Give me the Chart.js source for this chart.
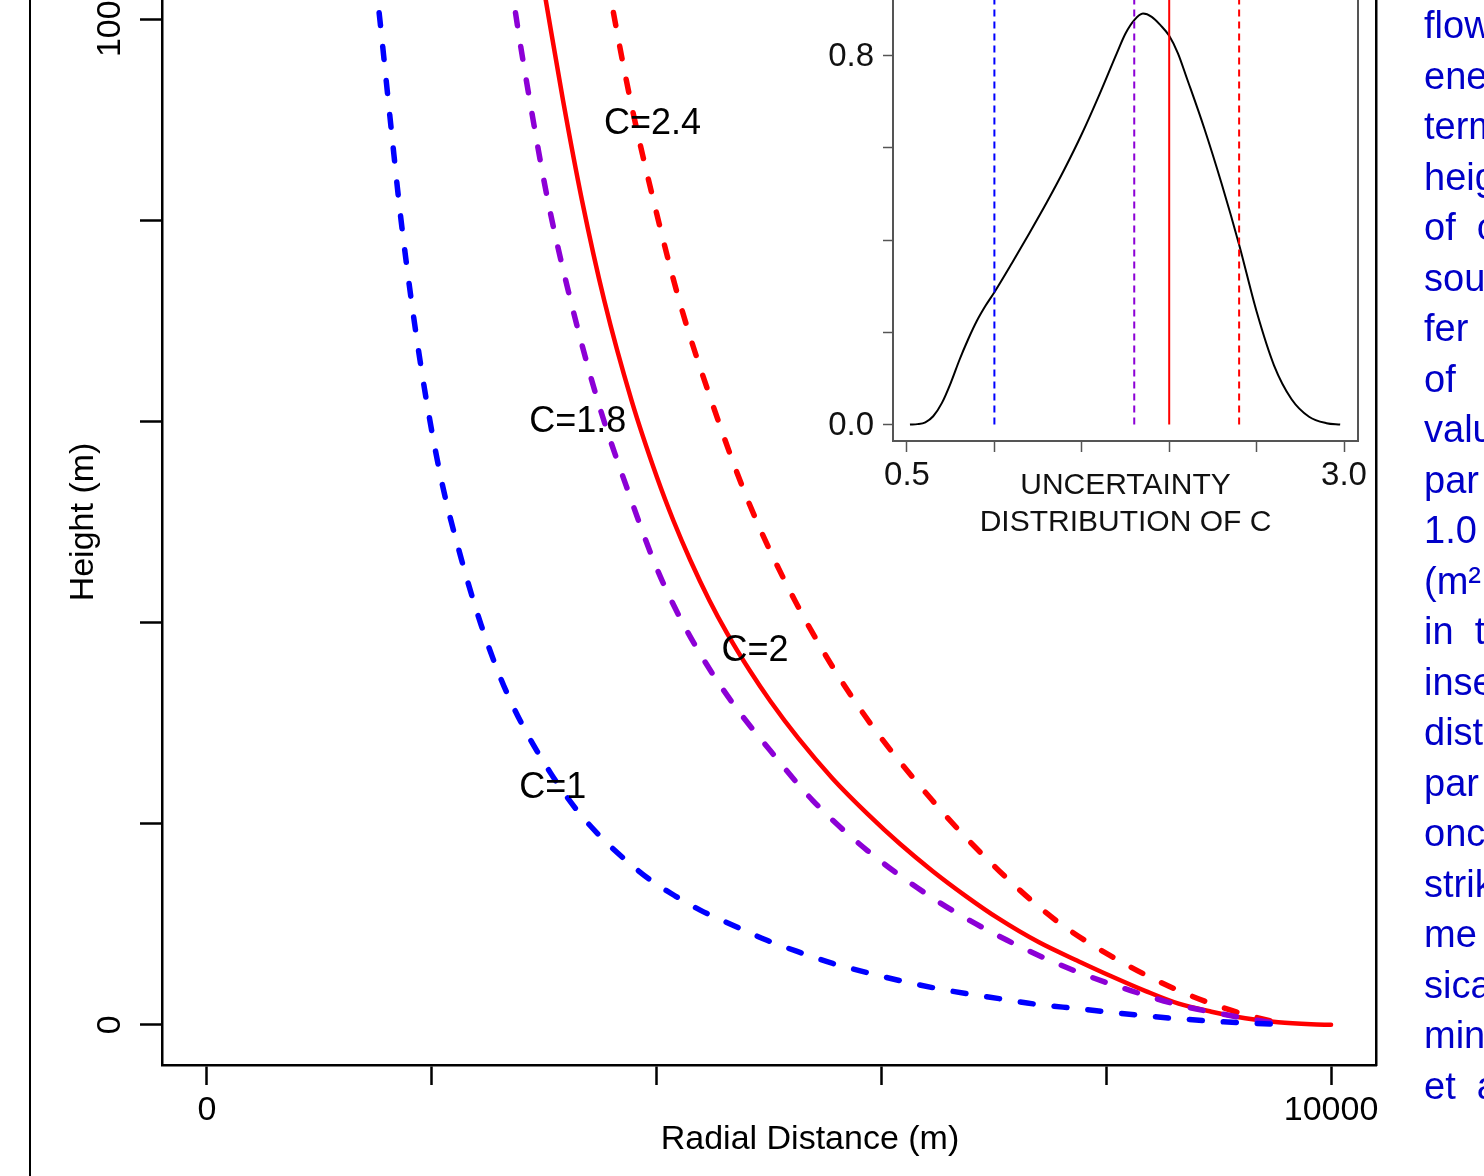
<!DOCTYPE html>
<html lang="en">
<head>
<meta charset="utf-8">
<title>Energy cone profiles</title>
<script src="https://cdn.jsdelivr.net/npm/chart.js@4.4.1/dist/chart.umd.min.js"></script>
<style>
  html, body { margin: 0; padding: 0; background: #fff; }
  body { width: 1484px; height: 1176px; position: relative; overflow: hidden; }
  #frame { position: absolute; left: 29px; top: 0; width: 2px; height: 1176px; background: #000; }
  #main { position: absolute; left: 0; top: -21px; }
  #inset { position: absolute; left: 780px; top: -3px; }
  #side { position: absolute; left: 1424px; top: 0; font: 38px "Liberation Sans", Arial, sans-serif;
          line-height: 50.5px; color: #0000c8; white-space: pre; }
</style>
</head>
<body>
<div id="frame"></div>
<canvas id="main" width="1484" height="1197"></canvas>
<canvas id="inset" width="600" height="600"></canvas>
<div id="side"></div>

<script>
// ---- main plot: radial distance (m) vs height (m) ----
const X_TICKS = [0, 2000, 4000, 6000, 8000, 10000];
const X_TICK_LABELS = ['0', '', '', '', '', '10000'];
const Y_TICKS = [0, 200, 400, 600, 800, 1000];
const Y_TICK_LABELS = ['0', '', '', '', '', '1000'];

// C = 1 (blue dashed)
const c1X = [1498, 1534, 1640, 1729, 1906, 2083, 2261, 2438, 2615, 2793, 3059, 3280, 3502, 3723, 3945, 4167, 4388, 4699, 4982, 5275, 5567, 5869, 6161, 6454, 6755, 7048, 7402, 7757, 8023, 8316, 8644, 8936, 9264, 9645];
const c1Y = [1040, 1004, 890, 798, 653, 543, 464, 398, 344, 301, 250, 215, 187, 164, 144, 128, 114, 98, 84, 72, 61, 52, 44, 37, 31, 26, 20, 16, 12.6, 9.2, 6, 3.7, 1.7, 0];
// C = 1.8 (purple dashed)
const c18X = [2704, 2748, 2872, 3032, 3236, 3475, 3777, 3972, 4131, 4371, 4663, 5009, 5390, 5878, 6498, 7119, 7713, 8218, 8670, 9113, 9424, 9619];
const c18Y = [1040, 1004, 919, 820, 720, 621, 521, 462, 422, 372, 322, 273, 223, 173, 123, 84, 54, 34, 19, 9, 3, 0];
// C = 2 (red solid)
const c2X = [2982, 3014, 3168, 3336, 3535, 3777, 4005, 4151, 4300, 4470, 4629, 4830, 5011, 5260, 5565, 5874, 6164, 6454, 6751, 7037, 7402, 7757, 8050, 8351, 8644, 8936, 9238, 9530, 9823, 10000];
const c2Y = [1040, 1019, 919, 820, 720, 621, 544, 501, 462, 422, 389, 352, 322, 285, 245, 210, 180, 153, 128, 106, 82, 63, 48, 33.5, 21, 13, 6.5, 2.5, 0.5, 0];
// C = 2.4 (red dashed)
const c24X = [3564, 3617, 3768, 3972, 4202, 4486, 4814, 5230, 5762, 6454, 7048, 7562, 8112, 8644, 9122, 9459, 9619];
const c24Y = [1040, 1006, 919, 820, 720, 621, 521, 422, 322, 223, 153, 103, 64, 34, 14, 4, 0];

const CURVE_LABELS = ['C=1', 'C=1.8', 'C=2', 'C=2.4'];

// ---- inset: uncertainty distribution of C ----
const INSET_X_TICKS = [0.5, 1.0, 1.5, 2.0, 2.5, 3.0];
const INSET_X_LABELS = ['0.5', '', '', '', '', '3.0'];
const INSET_Y_TICKS = [0, 0.2, 0.4, 0.6, 0.8];
const INSET_Y_LABELS = ['0.0', '', '', '', '0.8'];
const densC = [0.517, 0.56, 0.605, 0.65, 0.70, 0.75, 0.80, 0.85, 0.90, 0.95, 1.00, 1.10, 1.20, 1.30, 1.40, 1.50, 1.60, 1.70, 1.75, 1.80, 1.85, 1.90, 1.95, 2.00, 2.05, 2.10, 2.20, 2.30, 2.40, 2.50, 2.60, 2.70, 2.80, 2.90, 2.978];
const densY = [0, 0.001, 0.005, 0.018, 0.047, 0.09, 0.14, 0.185, 0.225, 0.258, 0.287, 0.35, 0.415, 0.482, 0.553, 0.63, 0.715, 0.805, 0.848, 0.877, 0.891, 0.884, 0.866, 0.843, 0.805, 0.752, 0.643, 0.522, 0.39, 0.245, 0.128, 0.055, 0.017, 0.003, 0];
const C_VALUES = [1.0, 1.8, 2.0, 2.4];

const SIDE_LINES = ['flow', 'ene', 'term', 'heig', 'of  c', 'sou', 'fer', 'of', 'valu', 'par', '1.0', '(m²', 'in  t', 'inse', 'dist', 'par', 'onc', 'strik', 'me', 'sica', 'min', 'et  a'];

const FONT = '"Liberation Sans", Arial, Helvetica, sans-serif';
const BLUE = '#0000ff', PURPLE = '#8c00d6', RED = '#ff0000';

const pts = (xs, ys) => xs.map((x, i) => ({ x: x, y: ys[i] }));
const noPad = s => { s.paddingTop = 0; s.paddingBottom = 0; s.paddingLeft = 0; s.paddingRight = 0; };

function curve(xs, ys, color, dashed) {
  return {
    data: pts(xs, ys),
    showLine: true,
    borderColor: color,
    borderWidth: dashed ? 5.5 : 4.5,
    borderDash: dashed ? [13, 21] : [],
    borderCapStyle: 'round',
    pointRadius: 0,
    cubicInterpolationMode: 'monotone',
    fill: false
  };
}

// label anchors (data units), kept apart from the series
const LABEL_AT = [[3076, 235], [3298, 599], [4876, 372], [3963, 896]];

const mainText = {
  id: 'mainText',
  afterDraw(chart) {
    const { ctx, chartArea } = chart;
    const x = chart.scales.x, y = chart.scales.y;
    ctx.save();
    ctx.fillStyle = '#000';
    ctx.textAlign = 'center';
    ctx.textBaseline = 'middle';
    ctx.font = '34px ' + FONT;
    Y_TICKS.forEach((v, i) => {
      if (!Y_TICK_LABELS[i]) return;
      ctx.save();
      ctx.translate(111, y.getPixelForValue(v));
      ctx.rotate(-Math.PI / 2);
      ctx.fillText(Y_TICK_LABELS[i], 0, 0);
      ctx.restore();
    });
    ctx.save();
    ctx.translate(84, (chartArea.top + chartArea.bottom) / 2);
    ctx.rotate(-Math.PI / 2);
    ctx.fillText('Height (m)', 0, 0);
    ctx.restore();
    ctx.fillText('Radial Distance (m)', 810, 1161);

    ctx.font = '36px ' + FONT;
    CURVE_LABELS.forEach((t, i) => {
      ctx.fillText(t, x.getPixelForValue(LABEL_AT[i][0]), y.getPixelForValue(LABEL_AT[i][1]));
    });
    ctx.restore();
  }
};

new Chart(document.getElementById('main'), {
  type: 'scatter',
  data: {
    datasets: [
      curve(c1X, c1Y, BLUE, true),
      curve(c18X, c18Y, PURPLE, true),
      curve(c2X, c2Y, RED, false),
      curve(c24X, c24Y, RED, true)
    ]
  },
  options: {
    responsive: false,
    animation: false,
    events: [],
    layout: { autoPadding: false, padding: { left: 0, right: 108, top: 0, bottom: 0 } },
    plugins: { legend: { display: false }, tooltip: { enabled: false } },
    scales: {
      x: {
        type: 'linear', position: 'bottom', min: -400, max: 10400,
        afterBuildTicks: s => { s.ticks = X_TICKS.map(v => ({ value: v })); },
        afterFit: s => { s.height = 111; noPad(s); },
        ticks: {
          padding: 5, color: '#000', maxRotation: 0, autoSkip: false,
          font: { family: FONT, size: 34 },
          callback: (v, i) => X_TICK_LABELS[i]
        },
        grid: { drawOnChartArea: false, drawTicks: true, tickLength: 20, tickWidth: 2.5, tickColor: '#000', color: '#000' },
        border: { display: true, color: '#000', width: 2.5 }
      },
      y: {
        type: 'linear', position: 'left', min: -40, max: 1040,
        afterBuildTicks: s => { s.ticks = Y_TICKS.map(v => ({ value: v })); },
        afterFit: s => { s.width = 162; noPad(s); },
        ticks: { display: false },
        grid: { drawOnChartArea: false, drawTicks: true, tickLength: 22, tickWidth: 2.5, tickColor: '#000', color: '#000' },
        border: { display: true, color: '#000', width: 2.5 }
      },
      y2: {
        type: 'linear', position: 'right', display: true, min: -40, max: 1040,
        afterFit: s => { s.width = 0; noPad(s); },
        ticks: { display: false },
        grid: { display: false, drawTicks: false },
        border: { display: true, color: '#000', width: 2.5 }
      }
    }
  },
  plugins: [mainText]
});

// ---- inset ----
const GREY = '#555';
const insetText = {
  id: 'insetText',
  afterDraw(chart) {
    const { ctx, chartArea } = chart;
    const y = chart.scales.y;
    const cx = (chartArea.left + chartArea.right) / 2;
    ctx.save();
    ctx.fillStyle = '#111';
    ctx.textBaseline = 'middle';
    ctx.textAlign = 'right';
    ctx.font = '33px ' + FONT;
    INSET_Y_TICKS.forEach((v, i) => {
      if (INSET_Y_LABELS[i]) ctx.fillText(INSET_Y_LABELS[i], 94, y.getPixelForValue(v) + 1);
    });
    ctx.textAlign = 'center';
    ctx.font = '30px ' + FONT;
    ctx.fillText('UNCERTAINTY', cx, 489);
    ctx.fillText('DISTRIBUTION OF C', cx, 526);
    ctx.restore();
  }
};

const vline = (c, color, dashed) => ({
  data: [{ x: c, y: 0 }, { x: c, y: 1 }],
  showLine: true, borderColor: color, borderWidth: 2,
  borderDash: dashed ? [7, 5] : [], pointRadius: 0, fill: false
});

new Chart(document.getElementById('inset'), {
  type: 'scatter',
  data: {
    datasets: [
      vline(C_VALUES[0], BLUE, true),
      vline(C_VALUES[1], PURPLE, true),
      vline(C_VALUES[2], RED, false),
      vline(C_VALUES[3], RED, true),
      {
        data: pts(densC, densY), showLine: true, borderColor: '#000', borderWidth: 2,
        pointRadius: 0, cubicInterpolationMode: 'monotone', fill: false
      }
    ]
  },
  options: {
    responsive: false,
    animation: false,
    events: [],
    layout: { autoPadding: false, padding: { left: 0, right: 22, top: 0, bottom: 0 } },
    plugins: { legend: { display: false }, tooltip: { enabled: false } },
    scales: {
      x: {
        type: 'linear', position: 'bottom', min: 0.42, max: 3.08,
        afterBuildTicks: s => { s.ticks = INSET_X_TICKS.map(v => ({ value: v })); },
        afterFit: s => { s.height = 156; noPad(s); },
        ticks: {
          padding: 4, color: '#111', maxRotation: 0, autoSkip: false,
          font: { family: FONT, size: 33 },
          callback: (v, i) => INSET_X_LABELS[i]
        },
        grid: { drawOnChartArea: false, drawTicks: true, tickLength: 11, tickWidth: 1.5, tickColor: GREY, color: GREY },
        border: { display: true, color: GREY, width: 2 }
      },
      y: {
        type: 'linear', position: 'left', min: -0.0356, max: 0.927,
        afterBuildTicks: s => { s.ticks = INSET_Y_TICKS.map(v => ({ value: v })); },
        afterFit: s => { s.width = 113; noPad(s); },
        ticks: { display: false },
        grid: { drawOnChartArea: false, drawTicks: true, tickLength: 10, tickWidth: 1.5, tickColor: GREY, color: GREY },
        border: { display: true, color: GREY, width: 2 }
      },
      y2: {
        type: 'linear', position: 'right', display: true, min: -0.0356, max: 0.927,
        afterFit: s => { s.width = 0; noPad(s); },
        ticks: { display: false },
        grid: { display: false, drawTicks: false },
        border: { display: true, color: GREY, width: 2 }
      }
    }
  },
  plugins: [insetText]
});

document.getElementById('side').textContent = SIDE_LINES.join('\n');
</script>
</body>
</html>
